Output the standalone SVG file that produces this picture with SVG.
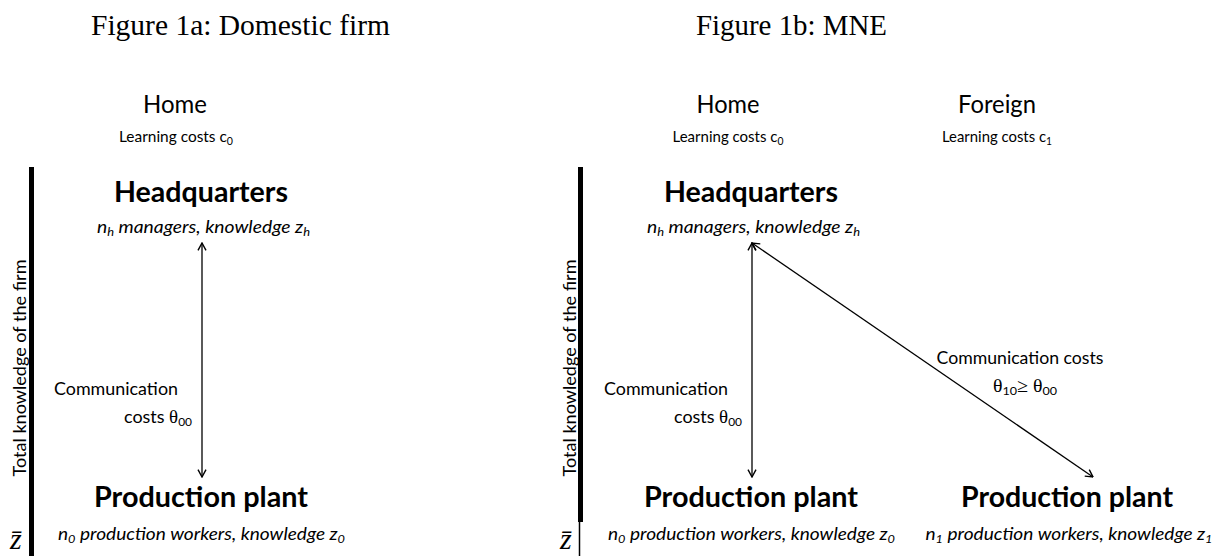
<svg xmlns="http://www.w3.org/2000/svg" width="1219" height="556" viewBox="0 0 1219 556">
<style>
text{fill:#000}
.title{font-family:"Liberation Serif",serif;font-size:29.5px}
.cal{font-family:Lato,"Liberation Sans",sans-serif}
.region{font-size:25px}
.small{font-size:16px}
.head{font-size:28px;font-weight:bold}
.desc{font-size:18px;font-style:italic}
.comm{font-size:18px}
.axis{font-size:18px}
.sym{font-family:"Liberation Serif",serif}
.zbar{font-family:"Liberation Serif",serif;font-style:italic;font-size:30px}
.conn{stroke:#000;stroke-width:1.3;fill:none}
</style>
<defs>
<marker id="arr" viewBox="0 0 10 10" refX="9.3" refY="5" markerWidth="10" markerHeight="10" markerUnits="userSpaceOnUse" orient="auto-start-reverse">
<path d="M2,1 L9.3,5 L2,9" fill="none" stroke="#000" stroke-width="1.4"/>
</marker>
</defs>
<rect width="1219" height="556" fill="#fff"/>

<g id="titles">
<text class="title" x="91" y="35" textLength="299" lengthAdjust="spacingAndGlyphs">Figure 1a: Domestic firm</text>
<text class="title" x="696" y="35" textLength="191" lengthAdjust="spacingAndGlyphs">Figure 1b: MNE</text>
</g>

<g id="region-home-a" class="cal">
<text class="region" x="175" y="113" text-anchor="middle" textLength="64" lengthAdjust="spacingAndGlyphs">Home</text>
<text class="small" x="176" y="142" text-anchor="middle" textLength="114" lengthAdjust="spacingAndGlyphs">Learning costs c<tspan dy="3" font-size="11">0</tspan></text>
</g>

<g id="region-home-b" class="cal">
<text class="region" x="728" y="113" text-anchor="middle" textLength="63" lengthAdjust="spacingAndGlyphs">Home</text>
<text class="small" x="728" y="142" text-anchor="middle" textLength="111" lengthAdjust="spacingAndGlyphs">Learning costs c<tspan dy="3" font-size="11">0</tspan></text>
</g>

<g id="region-foreign-b" class="cal">
<text class="region" x="997" y="113" text-anchor="middle" textLength="78" lengthAdjust="spacingAndGlyphs">Foreign</text>
<text class="small" x="997" y="142" text-anchor="middle" textLength="110" lengthAdjust="spacingAndGlyphs">Learning costs c<tspan dy="3" font-size="11">1</tspan></text>
</g>

<g id="axis-a" class="cal">
<rect x="29" y="167" width="5" height="389" fill="#000"/>
<text class="axis" transform="translate(25.5,368) rotate(-90)" text-anchor="middle" textLength="217" lengthAdjust="spacingAndGlyphs">Total knowledge of the firm</text>
<text class="zbar" x="10" y="549">z̄</text>
</g>

<g id="axis-b" class="cal">
<rect x="578" y="167" width="5" height="355" fill="#000"/>
<line x1="579.5" y1="522" x2="579.5" y2="556" stroke="#000" stroke-width="1.5"/>
<text class="axis" transform="translate(575.5,368) rotate(-90)" text-anchor="middle" textLength="217" lengthAdjust="spacingAndGlyphs">Total knowledge of the firm</text>
<text class="zbar" x="560" y="549">z̄</text>
</g>

<g id="hq-a" class="cal">
<text class="head" x="201" y="202" text-anchor="middle" textLength="174" lengthAdjust="spacingAndGlyphs">Headquarters</text>
<text class="desc" x="203.5" y="233" text-anchor="middle" textLength="213" lengthAdjust="spacingAndGlyphs">n<tspan dy="3" font-size="12">h</tspan><tspan dy="-3"> managers, knowledge z</tspan><tspan dy="3" font-size="12">h</tspan></text>
</g>

<g id="plant-a" class="cal">
<text class="head" x="201" y="507" text-anchor="middle" textLength="214" lengthAdjust="spacingAndGlyphs">Production plant</text>
<text class="desc" x="201.5" y="540" text-anchor="middle" textLength="287" lengthAdjust="spacingAndGlyphs">n<tspan dy="3" font-size="12">0</tspan><tspan dy="-3"> production workers, knowledge z</tspan><tspan dy="3" font-size="12">0</tspan></text>
</g>

<g id="hq-b" class="cal">
<text class="head" x="751" y="202" text-anchor="middle" textLength="174" lengthAdjust="spacingAndGlyphs">Headquarters</text>
<text class="desc" x="753.5" y="233" text-anchor="middle" textLength="213" lengthAdjust="spacingAndGlyphs">n<tspan dy="3" font-size="12">h</tspan><tspan dy="-3"> managers, knowledge z</tspan><tspan dy="3" font-size="12">h</tspan></text>
</g>

<g id="plant-home-b" class="cal">
<text class="head" x="751" y="507" text-anchor="middle" textLength="214" lengthAdjust="spacingAndGlyphs">Production plant</text>
<text class="desc" x="751.5" y="540" text-anchor="middle" textLength="287" lengthAdjust="spacingAndGlyphs">n<tspan dy="3" font-size="12">0</tspan><tspan dy="-3"> production workers, knowledge z</tspan><tspan dy="3" font-size="12">0</tspan></text>
</g>

<g id="plant-foreign-b" class="cal">
<text class="head" x="1067" y="507" text-anchor="middle" textLength="212" lengthAdjust="spacingAndGlyphs">Production plant</text>
<text class="desc" x="1069" y="540" text-anchor="middle" textLength="287" lengthAdjust="spacingAndGlyphs">n<tspan dy="3" font-size="12">1</tspan><tspan dy="-3"> production workers, knowledge z</tspan><tspan dy="3" font-size="12">1</tspan></text>
</g>

<g id="connectors">
<line class="conn" x1="202" y1="243" x2="202" y2="477" marker-start="url(#arr)" marker-end="url(#arr)"/>
<line class="conn" x1="752" y1="243" x2="752" y2="477" marker-start="url(#arr)" marker-end="url(#arr)"/>
<line class="conn" x1="752" y1="243" x2="1093" y2="477" marker-start="url(#arr)" marker-end="url(#arr)"/>
</g>

<g id="connector-labels" class="cal">
<text class="comm" x="54" y="395" textLength="124" lengthAdjust="spacingAndGlyphs">Communication</text>
<text class="comm" x="124" y="423" textLength="68" lengthAdjust="spacingAndGlyphs">costs <tspan class="sym" font-size="19">θ</tspan><tspan dy="3" font-size="12">00</tspan></text>
<text class="comm" x="604" y="395" textLength="124" lengthAdjust="spacingAndGlyphs">Communication</text>
<text class="comm" x="674" y="423" textLength="68" lengthAdjust="spacingAndGlyphs">costs <tspan class="sym" font-size="19">θ</tspan><tspan dy="3" font-size="12">00</tspan></text>
<text class="comm" x="1020" y="364" text-anchor="middle" textLength="167" lengthAdjust="spacingAndGlyphs">Communication costs</text>
<text class="comm" x="1025" y="392" text-anchor="middle" textLength="64" lengthAdjust="spacingAndGlyphs"><tspan class="sym" font-size="19">θ</tspan><tspan dy="3" font-size="12">10</tspan><tspan dy="-3" class="sym" font-size="19">≥</tspan><tspan class="sym" font-size="19"> θ</tspan><tspan dy="3" font-size="12">00</tspan></text>
</g>
</svg>
